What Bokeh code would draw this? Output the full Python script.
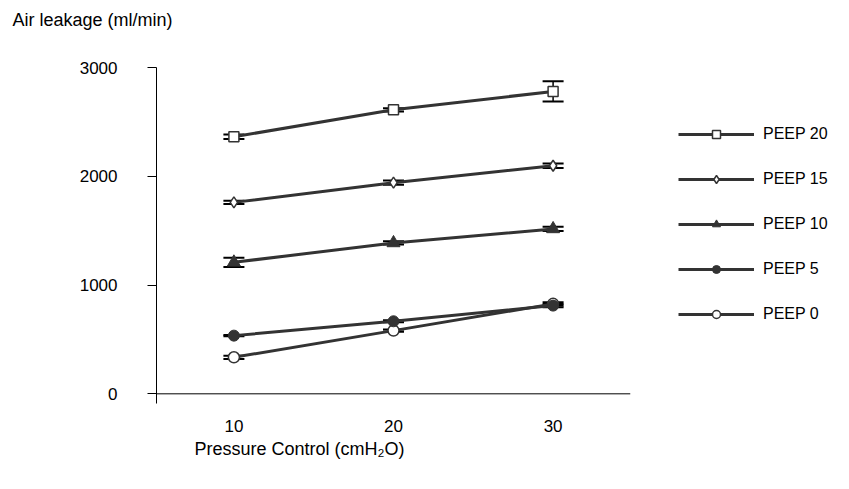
from bokeh.plotting import figure
from bokeh.models import (Range1d, FixedTicker, Span, Title, Legend, LegendItem,
                          Whisker, TeeHead, ColumnDataSource)
from bokeh.embed import file_html
from bokeh.resources import INLINE

# ---- data ----
pressure = [10, 20, 30]
series_names = ["PEEP 20", "PEEP 15", "PEEP 10", "PEEP 5", "PEEP 0"]
peep20 = [2363, 2611, 2780]
err20 = [20, 15, 93]
peep15 = [1760, 1941, 2097]
err15 = [15, 20, 20]
peep10 = [1209, 1387, 1516]
err10 = [42, 15, 20]
peep5 = [535, 667, 811]
err5 = [5, 10, 15]
peep0 = [336, 581, 827]
err0 = [15, 10, 15]
y_ticks = [0, 1000, 2000, 3000]
x_ticks = [10, 20, 30]

FONT = "Liberation Sans"
LINE = "#333333"

p = figure(frame_width=474, frame_height=336, output_backend="svg",
           toolbar_location=None,
           x_range=Range1d(5.15, 34.85), y_range=Range1d(-89, 3000))
p.min_border_left = 156
p.min_border_right = 0
p.min_border_top = 67
p.min_border_bottom = 70
p.outline_line_color = None
p.xgrid.visible = False
p.ygrid.visible = False
p.background_fill_color = "white"

# y axis
p.yaxis.ticker = FixedTicker(ticks=y_ticks)
p.yaxis.minor_tick_line_color = None
p.yaxis.major_tick_in = 0
p.yaxis.major_tick_out = 9
p.yaxis.axis_line_color = "black"
p.yaxis.major_tick_line_color = "black"
p.yaxis.major_label_standoff = 30
p.yaxis.major_label_text_font = FONT
p.yaxis.major_label_text_font_size = "17px"
p.yaxis.major_label_text_color = "black"

# x axis (labels only; the axis line is drawn at y = 0)
p.xaxis.ticker = FixedTicker(ticks=x_ticks)
p.xaxis.axis_line_color = None
p.xaxis.major_tick_line_color = None
p.xaxis.minor_tick_line_color = None
p.xaxis.major_tick_out = 0
p.xaxis.major_tick_in = 0
p.xaxis.major_label_standoff = 16
p.xaxis.major_label_text_font = FONT
p.xaxis.major_label_text_font_size = "17px"
p.xaxis.major_label_text_color = "black"

p.add_layout(Span(location=0, dimension="width", line_color="black", line_width=1))

values = [peep20, peep15, peep10, peep5, peep0]
errors = [err20, err15, err10, err5, err0]
markers = [
    dict(marker="square", size=10, fill_color="white", line_color=LINE, line_width=1.5),
    dict(marker="diamond", size=11, fill_color="white", line_color=LINE, line_width=1.5),
    dict(marker="triangle", size=13, fill_color=LINE, line_color=LINE, line_width=1),
    dict(marker="circle", size=11, fill_color=LINE, line_color=LINE, line_width=1),
    dict(marker="circle", size=11, fill_color="white", line_color=LINE, line_width=1.5),
]

item_map = {}
whiskers = []
# draw from PEEP 0 upwards so that the filled PEEP 5 marker lies on top
for name, vals, errs, mk in reversed(list(zip(series_names, values, errors, markers))):
    src = ColumnDataSource(dict(
        x=pressure, y=vals,
        upper=[v + e for v, e in zip(vals, errs)],
        lower=[v - e for v, e in zip(vals, errs)],
    ))
    lr = p.line("x", "y", source=src, line_color=LINE, line_width=3)
    sr = p.scatter("x", "y", source=src, **mk)
    w = Whisker(base="x", upper="upper", lower="lower", source=src,
                line_color="black", line_width=1.5,
                upper_head=TeeHead(size=21, line_color="black", line_width=2),
                lower_head=TeeHead(size=21, line_color="black", line_width=2))
    whiskers.append(w)
    item_map[name] = LegendItem(label=name, renderers=[lr, sr])

for w in whiskers:
    p.add_layout(w)

legend = Legend(items=[item_map[n] for n in series_names], location=(48, 79),
                orientation="vertical",
                glyph_width=76, glyph_height=20, spacing=25, label_standoff=9,
                padding=0, margin=0, border_line_color=None,
                background_fill_alpha=0,
                label_text_font=FONT, label_text_font_size="16px",
                label_text_color="black")
p.add_layout(legend, "right")

p.add_layout(Title(text="Pressure Control (cmH\u2082O)", align="left", offset=38,
                   standoff=5, text_font=FONT, text_font_size="18px",
                   text_font_style="normal", text_color="black"), "below")
# spacer panel (closest to the frame) so that the y title sits near the top
p.add_layout(Title(text=" ", standoff=17, text_font=FONT, text_font_size="17px"),
             "above")
p.add_layout(Title(text="Air leakage (ml/min)", align="left", offset=-144,
                   standoff=0, text_font=FONT, text_font_size="18px",
                   text_font_style="normal", text_color="black"), "above")

open("out.html", "w").write(file_html(p, INLINE))
